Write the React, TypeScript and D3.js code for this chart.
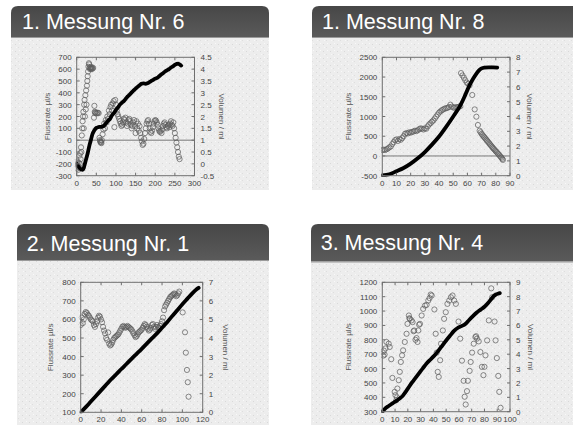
import * as d3 from 'd3';

type Pt = [number, number];

// ---- 1. Messung Nr. 6 ----
const flowA: Pt[] = [
  [0, -200], [1, -240], [2, -180], [3, -220], [4, -250], [5, -190], [6, -230], [7, -130], [8, -200], [9, -110],
  [10, -160], [11, -60], [12, -100], [13, 40], [14, 100], [15, 160], [16, 200], [17, 240], [18, 100], [19, 300],
  [20, 340], [21, 200], [22, 380], [23, 260], [24, 420], [25, 300], [26, 460], [27, 500], [28, 540], [29, 580],
  [30, 620], [31, 650], [32, 640], [33, 610], [34, 600], [35, 620], [36, 605], [37, 610], [38, 600], [39, 615],
  [40, 605], [42, 610], [44, 190], [45, 290], [46, 240], [47, 230], [48, 235], [50, 225], [52, 230], [54, 232],
  [56, 228], [58, 20], [59, 0], [60, -10], [61, -20], [62, -15], [63, -25], [64, 0], [66, 50], [68, 90],
  [70, 140], [72, 100], [74, 170], [76, 150], [78, 200], [80, 180], [82, 250], [84, 220], [86, 280], [88, 300],
  [90, 250], [92, 310], [94, 330], [96, 110], [98, 340], [100, 300], [102, 250], [104, 220], [106, 200], [108, 180],
  [110, 160], [112, 140], [114, 120], [116, 130], [118, 150], [120, 180], [122, 170], [124, 190], [126, 150], [128, 120],
  [130, 140], [132, 170], [134, 180], [136, 160], [138, 130], [140, 100], [142, 120], [144, 150], [146, 170], [148, 120],
  [150, 60], [152, 160], [154, 100], [156, 140], [158, 80], [160, 120], [162, 60], [164, 20], [166, -10], [168, -40],
  [170, -30], [172, 10], [174, 60], [176, 100], [178, 140], [180, 160], [182, 170], [184, 140], [186, 100], [188, 70],
  [190, 60], [192, 80], [194, 110], [196, 140], [198, 160], [200, 170], [202, 165], [204, 150], [206, 130], [208, 100],
  [210, 80], [212, 70], [214, 80], [216, 60], [218, 90], [220, 120], [222, 140], [224, 150], [226, 130], [228, 110],
  [230, 100], [232, 120], [234, 130], [236, 110], [238, 140], [240, 160], [242, 130], [244, 120], [246, 150], [248, 100],
  [250, 60], [252, 20], [254, -20], [256, -60], [258, -100], [260, -140], [262, -160],
];
const volA: Pt[] = [
  [0, 0], [3, -0.08], [6, -0.15], [9, -0.2], [12, -0.24], [15, -0.25], [18, -0.18], [20, -0.05], [24, 0.2],
  [28, 0.45], [32, 0.75], [36, 1.0], [40, 1.25], [45, 1.42], [50, 1.52], [55, 1.55], [60, 1.56], [65, 1.57],
  [70, 1.62], [75, 1.72], [80, 1.82], [85, 1.9], [90, 2.05], [95, 2.15], [100, 2.28], [105, 2.38], [110, 2.5],
  [115, 2.58], [120, 2.65], [125, 2.75], [130, 2.85], [135, 2.93], [140, 3.02], [145, 3.1], [150, 3.18], [155, 3.25],
  [160, 3.32], [165, 3.38], [170, 3.4], [175, 3.38], [180, 3.4], [185, 3.45], [190, 3.5], [195, 3.55], [200, 3.6],
  [205, 3.63], [210, 3.7], [215, 3.77], [220, 3.83], [225, 3.9], [230, 3.95], [235, 4.0], [240, 4.07], [245, 4.12],
  [250, 4.18], [255, 4.22], [258, 4.23], [262, 4.2], [266, 4.15],
];
const xTicksA = [0, 50, 100, 150, 200, 250, 300];
const flowTicksA = [-300, -200, -100, 0, 100, 200, 300, 400, 500, 600, 700];
const volTicksA = [-0.5, 0, 0.5, 1, 1.5, 2, 2.5, 3, 3.5, 4, 4.5];

// ---- 1. Messung Nr. 8 ----
const flowB: Pt[] = [
  [0, 150], [1, 160], [2, 150], [3, 170], [4, 190], [5, 220], [6, 240], [7, 300], [8, 350], [9, 400],
  [10, 420], [11, 380], [12, 430], [13, 410], [14, 450], [15, 500], [16, 560], [17, 580], [18, 570], [19, 600],
  [20, 590], [21, 610], [22, 620], [23, 640], [24, 630], [25, 650], [26, 680], [27, 700], [28, 690], [29, 670],
  [30, 700], [31, 690], [32, 750], [33, 800], [34, 830], [35, 870], [36, 900], [37, 950], [38, 1000], [39, 1050],
  [40, 1100], [41, 1130], [42, 1160], [43, 1180], [44, 1200], [45, 1210], [46, 1220], [47, 1240], [48, 1300], [49, 1250],
  [50, 1230], [51, 1220], [52, 1240], [53, 1230], [54, 1250], [55, 1260], [55.5, 2100], [56.5, 2040], [57.5, 1980],
  [58.5, 1920], [59.5, 1860], [60.5, 1830], [61.5, 1790], [63.4, 1545], [65.1, 1180], [66.3, 995], [67.4, 785],
  [68.6, 640], [69.3, 600], [70, 560], [70.7, 525], [71.4, 495], [72, 470], [72.7, 440], [73.4, 410], [74, 380],
  [74.7, 350], [75.4, 320], [76, 290], [76.7, 260], [77.4, 230], [78, 200], [78.7, 175], [79.4, 145], [80, 120],
  [80.7, 95], [81.4, 65], [82, 40], [82.7, 10], [83.4, -20], [84, -45], [84.6, -75], [85, -100],
];
const volB: Pt[] = [
  [0, 0.02], [5, 0.1], [10, 0.3], [15, 0.52], [20, 0.82], [25, 1.18], [30, 1.6], [35, 2.1], [40, 2.65],
  [45, 3.3], [50, 4.0], [55, 4.75], [58, 5.35], [60, 5.8], [62, 6.2], [64, 6.55], [66, 6.85], [68, 7.1],
  [70, 7.25], [72, 7.3], [75, 7.32], [78, 7.32], [81, 7.3],
];
const xTicksB = [0, 10, 20, 30, 40, 50, 60, 70, 80, 90];
const flowTicksB = [-500, 0, 500, 1000, 1500, 2000, 2500];
const volTicksB = [0, 1, 2, 3, 4, 5, 6, 7, 8];

// ---- 2. Messung Nr. 1 ----
const flowC: Pt[] = [
  [0, 570], [1, 610], [2, 580], [3, 600], [4, 630], [5, 640], [6, 635], [7, 625], [8, 620], [9, 610],
  [10, 600], [11, 595], [12, 590], [13, 570], [14, 560], [15, 575], [16, 590], [17, 610], [18, 620], [19, 615],
  [20, 600], [21, 585], [22, 560], [23, 540], [24, 525], [25, 500], [26, 490], [27, 530], [28, 470], [29, 460],
  [30, 465], [31, 475], [32, 490], [33, 500], [34, 505], [35, 510], [36, 515], [37, 520], [38, 530], [39, 540],
  [40, 550], [41, 560], [42, 565], [43, 560], [44, 555], [45, 560], [46, 565], [47, 560], [48, 555], [49, 550],
  [50, 545], [51, 535], [52, 525], [53, 515], [54, 505], [55, 510], [56, 520], [57, 530], [58, 535], [59, 540],
  [60, 545], [61, 555], [62, 565], [63, 575], [64, 570], [65, 560], [66, 550], [67, 540], [68, 545], [69, 555],
  [70, 570], [71, 575], [72, 560], [73, 550], [74, 560], [75, 570], [76, 560], [77, 555], [78, 565], [79, 575],
  [80, 590], [81, 610], [82, 650], [83, 670], [84, 680], [85, 690], [86, 700], [87, 710], [88, 720], [89, 725],
  [90, 730], [91, 735], [92, 740], [93, 735], [94, 725], [95, 730], [96, 740], [97, 750],
  [100.3, 638], [102.6, 531], [103.4, 421], [104.5, 328], [105.3, 262], [106.1, 184],
];
const volC: Pt[] = [
  [0, 0], [5, 0.28], [10, 0.58], [15, 0.88], [20, 1.18], [25, 1.48], [30, 1.78], [35, 2.05], [40, 2.33],
  [45, 2.6], [50, 2.88], [55, 3.15], [60, 3.42], [65, 3.7], [70, 3.98], [75, 4.25], [80, 4.55], [85, 4.85],
  [90, 5.18], [95, 5.5], [100, 5.82], [105, 6.12], [110, 6.42], [114, 6.62], [116, 6.7],
];
const xTicksC = [0, 20, 40, 60, 80, 100, 120];
const flowTicksC = [100, 200, 300, 400, 500, 600, 700, 800];
const volTicksC = [0, 1, 2, 3, 4, 5, 6, 7];

// ---- 3. Messung Nr. 4 ----
const flowD: Pt[] = [
  [0.8, 690], [1.2, 725], [1.8, 697], [2.5, 740], [3.2, 785], [5, 773], [5.8, 750], [7, 665], [7.9, 535], [9.7, 438],
  [10.3, 415], [11, 380], [11.5, 400], [11.8, 461], [12.9, 519], [13.7, 577], [14.5, 646], [15.5, 692], [16.3, 727],
  [17.6, 785], [19, 842], [19.7, 911], [20.8, 969], [21.2, 950], [21.6, 946], [22.9, 935], [23.7, 923], [24.5, 860],
  [25, 865], [26, 800], [26.8, 812], [27.6, 785], [28.2, 865], [28.8, 905], [29.5, 911], [30.8, 969], [32, 1015],
  [33.4, 1038], [34.7, 1043], [36, 1073], [37, 1090], [37.9, 1115], [38.7, 1108], [40.8, 1011], [41.8, 842],
  [42.6, 711], [43.4, 577], [44.2, 542], [45.3, 658], [46, 773], [47.4, 865], [48.4, 946], [49.7, 992], [51, 1050],
  [52.4, 1073], [53.7, 1096], [55, 1108], [56.3, 1073], [57.6, 1050], [59.7, 927], [61, 808], [62.4, 655],
  [63.7, 515], [64.5, 404], [65.3, 350], [66.3, 443], [67, 515], [68.4, 584], [69.2, 646], [70.3, 711], [71.6, 773],
  [72.9, 819], [73.5, 825], [74.2, 808], [75.5, 789], [76.8, 715], [78, 612], [79.2, 554], [80, 612], [80.8, 692],
  [82.1, 796], [83.4, 935], [85.3, 1158], [86, 1096], [87.9, 927], [88.7, 796], [89.7, 673], [90.8, 549],
  [91.6, 438], [92.6, 327],
];
const volD: Pt[] = [
  [0, 0], [2, 0.2], [5, 0.4], [8, 0.58], [10, 0.7], [13, 0.88], [16, 1.1], [18, 1.35], [20, 1.6], [23, 2.0],
  [26, 2.35], [29, 2.7], [32, 3.05], [35, 3.38], [38, 3.65], [41, 3.92], [44, 4.25], [47, 4.6], [50, 4.95],
  [53, 5.28], [56, 5.6], [59, 5.82], [62, 5.95], [65, 6.1], [68, 6.38], [71, 6.65], [74, 6.9], [77, 7.1],
  [80, 7.3], [83, 7.58], [85, 7.8], [87, 8.02], [89, 8.15], [91, 8.22], [92, 8.25],
];
const xTicksD = [0, 10, 20, 30, 40, 50, 60, 70, 80, 90, 100];
const flowTicksD = [300, 400, 500, 600, 700, 800, 900, 1000, 1100, 1200];
const volTicksD = [0, 1, 2, 3, 4, 5, 6, 7, 8, 9];

const FONT = 'Liberation Sans, Arial, Helvetica, sans-serif';

type Frame = { l: number; t: number; r: number; b: number };

function Panel(props: {
  id: string;
  title: string;
  box: { x: number; y: number; w: number; head: number; bottom: number };
  titleX: number;
  titleY: number;
  frame: Frame;
  leftLabelX: number;
  rightLabelX: number;
  flow: Pt[];
  vol: Pt[];
  xTicks: number[];
  flowTicks: number[];
  volTicks: number[];
}) {
  const { id, title, box, frame, flow, vol, xTicks, flowTicks, volTicks } = props;
  const x = d3.scaleLinear().domain([xTicks[0], xTicks[xTicks.length - 1]]).range([frame.l, frame.r]);
  const yL = d3.scaleLinear().domain([flowTicks[0], flowTicks[flowTicks.length - 1]]).range([frame.b, frame.t]);
  const yR = d3.scaleLinear().domain([volTicks[0], volTicks[volTicks.length - 1]]).range([frame.b, frame.t]);
  const line = d3.line<Pt>().x(d => x(d[0])).y(d => yR(d[1])).curve(d3.curveMonotoneX);
  const headBottom = box.y + box.head;
  const r = 7;
  const headPath = `M${box.x},${headBottom} V${box.y + r} Q${box.x},${box.y} ${box.x + r},${box.y} H${box.x + box.w - r} Q${box.x + box.w},${box.y} ${box.x + box.w},${box.y + r} V${headBottom} Z`;
  const midY = (frame.t + frame.b) / 2;
  const showZero = yL.domain()[0] < 0;

  return (
    <g>
      <rect x={box.x} y={headBottom} width={box.w} height={box.bottom - headBottom} fill="url(#noise)" />
      <path d={headPath} fill="url(#headGrad)" />
      <line x1={box.x} x2={box.x + box.w} y1={headBottom + 0.5} y2={headBottom + 0.5} stroke="#9a9a9a" />
      <text x={props.titleX} y={props.titleY} fill="#ffffff" fontFamily={FONT} fontSize={21.5}>{title}</text>

      <clipPath id={`clip-${id}`}>
        <rect x={frame.l - 1} y={frame.t - 1} width={frame.r - frame.l + 2} height={frame.b - frame.t + 2} />
      </clipPath>

      {showZero && (
        <line x1={frame.l} x2={frame.r} y1={yL(0)} y2={yL(0)} stroke="#777" strokeWidth={1} />
      )}

      <g clipPath={`url(#clip-${id})`}>
        {flow.map((d, i) => (
          <circle key={i} cx={x(d[0])} cy={yL(d[1])} r={2.6} fill="none" stroke="#5c5c5c" strokeOpacity={0.8} strokeWidth={0.9} />
        ))}
        <path d={line(vol) || ''} fill="none" stroke="#000" strokeWidth={3.8} strokeLinecap="round" strokeLinejoin="round" />
      </g>

      <rect x={frame.l} y={frame.t} width={frame.r - frame.l} height={frame.b - frame.t} fill="none" stroke="#6e6e6e" strokeWidth={1} />

      {xTicks.map(t => (
        <g key={`x${t}`}>
          <line x1={x(t)} x2={x(t)} y1={frame.b} y2={frame.b - 3} stroke="#6e6e6e" />
          <line x1={x(t)} x2={x(t)} y1={frame.t} y2={frame.t + 3} stroke="#6e6e6e" />
          <text x={x(t)} y={frame.b + 10} textAnchor="middle" fontFamily={FONT} fontSize={8} fill="#444">{t}</text>
        </g>
      ))}
      {flowTicks.map(t => (
        <g key={`l${t}`}>
          <line x1={frame.l} x2={frame.l + 3} y1={yL(t)} y2={yL(t)} stroke="#6e6e6e" />
          <text x={frame.l - 5} y={yL(t) + 3} textAnchor="end" fontFamily={FONT} fontSize={8} fill="#444">{t}</text>
        </g>
      ))}
      {volTicks.map(t => (
        <g key={`r${t}`}>
          <line x1={frame.r} x2={frame.r - 3} y1={yR(t)} y2={yR(t)} stroke="#6e6e6e" />
          <text x={frame.r + 6} y={yR(t) + 3} textAnchor="start" fontFamily={FONT} fontSize={8} fill="#444">{t}</text>
        </g>
      ))}

      <text transform={`translate(${props.leftLabelX},${midY}) rotate(-90)`} textAnchor="middle" fontFamily={FONT} fontSize={8} fill="#555">Flussrate µl/s</text>
      <text transform={`translate(${props.rightLabelX},${midY}) rotate(90)`} textAnchor="middle" fontFamily={FONT} fontSize={8} fill="#555">Volumen / ml</text>
    </g>
  );
}

export default function App() {
  return (
    <svg width={573} height={425} style={{ position: 'absolute', left: 0, top: 0, background: '#fff' }}>
      <defs>
        <linearGradient id="headGrad" x1="0" y1="0" x2="0" y2="1">
          <stop offset="0" stopColor="#474747" />
          <stop offset="1" stopColor="#5a5a5a" />
        </linearGradient>
        <pattern id="noise" width={7} height={7} patternUnits="userSpaceOnUse">
          <rect width={7} height={7} fill="#ededed" />
          <rect x={1} y={2} width={1} height={1} fill="#d9d9d9" />
          <rect x={4} y={5} width={1} height={1} fill="#dedede" />
          <rect x={5} y={1} width={1} height={1} fill="#f9f9f9" />
          <rect x={2} y={5} width={1} height={1} fill="#f7f7f7" />
        </pattern>
      </defs>

      <Panel id="a" title="1. Messung Nr. 6"
        box={{ x: 11, y: 6, w: 258, head: 31, bottom: 190 }} titleX={22} titleY={29}
        frame={{ l: 76.7, t: 57.3, r: 194.5, b: 175.7 }} leftLabelX={50} rightLabelX={219}
        flow={flowA} vol={volA} xTicks={xTicksA} flowTicks={flowTicksA} volTicks={volTicksA} />
      <Panel id="b" title="1. Messung Nr. 8"
        box={{ x: 312, y: 6, w: 270, head: 31, bottom: 190 }} titleX={322} titleY={29}
        frame={{ l: 382.3, t: 57.3, r: 510, b: 175.7 }} leftLabelX={351} rightLabelX={527}
        flow={flowB} vol={volB} xTicks={xTicksB} flowTicks={flowTicksB} volTicks={volTicksB} />
      <Panel id="c" title="2. Messung Nr. 1"
        box={{ x: 17, y: 224, w: 252, head: 36, bottom: 430 }} titleX={26.7} titleY={251}
        frame={{ l: 80.7, t: 282.3, r: 202.7, b: 412.3 }} leftLabelX={53} rightLabelX={223}
        flow={flowC} vol={volC} xTicks={xTicksC} flowTicks={flowTicksC} volTicks={volTicksC} />
      <Panel id="d" title="3. Messung Nr. 4"
        box={{ x: 311, y: 224, w: 270, head: 37.5, bottom: 430 }} titleX={320.7} titleY={250}
        frame={{ l: 382.3, t: 282.3, r: 510, b: 411.7 }} leftLabelX={351} rightLabelX={528}
        flow={flowD} vol={volD} xTicks={xTicksD} flowTicks={flowTicksD} volTicks={volTicksD} />
    </svg>
  );
}
